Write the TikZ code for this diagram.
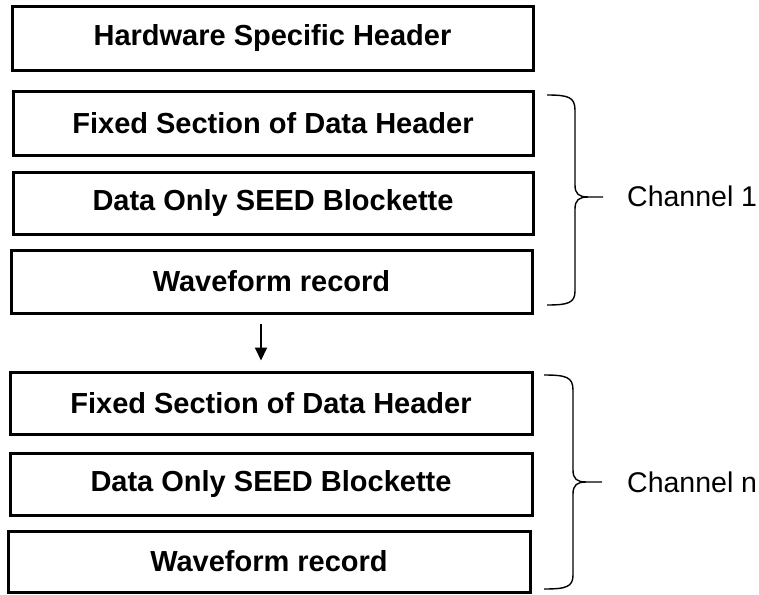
\documentclass[tikz,border=0pt]{standalone}
\usepackage{fontspec}
\setmainfont{Liberation Sans}
\usetikzlibrary{arrows.meta}
\begin{document}
\begin{tikzpicture}[x=1pt,y=-1pt,
  blk/.style={draw=black,line width=3pt,fill=white,inner sep=0pt,
    font=\fontsize{29}{34}\selectfont\bfseries},
  brc/.style={draw=black,line width=1.4pt},
  lbl/.style={inner sep=0pt,anchor=west,font=\fontsize{28.5}{34}\selectfont},
  arr/.style={-{Triangle[width=12pt,length=13pt]},line width=2pt}]
\useasboundingbox (0,0) rectangle (759,594);
\node[blk,minimum width=521pt,minimum height=63pt] (b1) at (272.5,38.5) {Hardware Specific Header};
\node[blk,minimum width=520pt,minimum height=64pt] (b2) at (273,123) {Fixed Section of Data Header};
\node[blk,minimum width=520pt,minimum height=62pt] (b3) at (273,203) {Data Only SEED Blockette};
\node[blk,minimum width=521pt,minimum height=63pt] (b4) at (271.5,281.5) {Waveform record};
\node[blk,minimum width=522pt,minimum height=62pt] (b5) at (271,403) {Fixed Section of Data Header};
\node[blk,minimum width=522pt,minimum height=62pt] (b6) at (271,484) {Data Only SEED Blockette};
\node[blk,minimum width=522pt,minimum height=61pt] (b7) at (269,561.5) {Waveform record};
\draw[arr] ([xshift=-10.5pt,yshift=-9pt]b4.south) -- ([xshift=-10pt,yshift=10pt]b5.north);
% brace channel 1
\draw[brc] (547,95) .. controls (568,95) and (575,97) .. (575,110) -- (575,185)
  .. controls (575,194) and (579,197) .. (588,197) -- (603,197);
\draw[brc] (588,197) .. controls (579,197) and (575,200) .. (575,209) -- (575,291)
  .. controls (575,303) and (568,305) .. (547,305);
\node[lbl] (c1) at (627,196) {Channel 1};
% brace channel n
\draw[brc] (544,375) .. controls (566,375) and (573,377) .. (573,390) -- (573,470)
  .. controls (573,479) and (577,482) .. (586,482) -- (602,482);
\draw[brc] (586,482) .. controls (577,482) and (573,485) .. (573,494) -- (573,575)
  .. controls (573,587) and (566,589) .. (544,589);
\node[lbl] (cn) at (627,482) {Channel n};
\end{tikzpicture}
\end{document}
